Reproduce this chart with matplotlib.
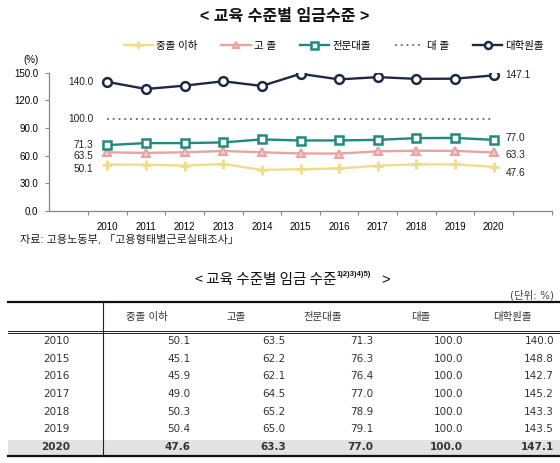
import numpy as np
import matplotlib
matplotlib.use("Agg")
import matplotlib.pyplot as plt
from matplotlib.patches import Rectangle

plt.rcParams['font.family'] = ['Liberation Sans', 'Noto Sans CJK KR']

# 차트 데이터 (교육 수준별 임금수준, 대졸=100)
years = [2010, 2011, 2012, 2013, 2014, 2015, 2016, 2017, 2018, 2019, 2020]
middle = [50.1, 50.1, 49.0, 50.8, 44.3, 45.1, 45.9, 49.0, 50.3, 50.4, 47.6]
high = [63.5, 62.8, 63.5, 64.9, 63.5, 62.2, 62.1, 64.5, 65.2, 65.0, 63.3]
college = [71.3, 73.5, 73.5, 74.2, 77.5, 76.3, 76.4, 77.0, 78.9, 79.1, 77.0]
univ = [100.0] * 11
grad = [140.0, 132.3, 135.9, 140.7, 135.6, 148.8, 142.7, 145.2, 143.3, 143.5, 147.1]
series_names = ['중졸 이하', '고 졸', '전문대졸', '대 졸', '대학원졸']

# 표 데이터
table_years = ['2010', '2015', '2016', '2017', '2018', '2019', '2020']
table_cols = ['중졸 이하', '고졸', '전문대졸', '대졸', '대학원졸']
table_vals = [
    [50.1, 63.5, 71.3, 100.0, 140.0],
    [45.1, 62.2, 76.3, 100.0, 148.8],
    [45.9, 62.1, 76.4, 100.0, 142.7],
    [49.0, 64.5, 77.0, 100.0, 145.2],
    [50.3, 65.2, 78.9, 100.0, 143.3],
    [50.4, 65.0, 79.1, 100.0, 143.5],
    [47.6, 63.3, 77.0, 100.0, 147.1],
]

W, H = 560, 463
fig = plt.figure(figsize=(W / 100, H / 100), dpi=100)

def fx(px):
    return px / W

def fy(py):
    return 1 - py / H

# ---- 선 그래프 ----
ax = fig.add_axes([fx(49.3), fy(210.7), fx(551.7 - 49.3), (210.7 - 72.7) / H])
x = np.arange(len(years))

c_mid, c_high, c_col, c_univ, c_grad = '#f2dc88', '#e8a3a3', '#1f8a7e', '#666666', '#1e2a44'
l1, = ax.plot(x, middle, color=c_mid, lw=1.7, marker='+', ms=7, mew=2)
l2, = ax.plot(x, high, color=c_high, lw=1.7, marker='^', ms=6, mfc='#f3c9c9', mec=c_high, mew=1.5)
l3, = ax.plot(x, college, color=c_col, lw=1.7, marker='s', ms=6.3, mfc='white', mec=c_col, mew=1.8)
l4, = ax.plot(x, univ, color=c_univ, lw=1.3, ls=(0, (1, 2.2)))
l5, = ax.plot(x, grad, color=c_grad, lw=1.7, marker='o', ms=6.3, mfc='white', mec=c_grad, mew=1.8)

ax.set_xlim(-1.5, 11.5)
ax.set_ylim(0, 150)
ax.set_yticks(np.arange(0, 151, 30))
ax.set_yticklabels([f'{v:.1f}' for v in np.arange(0, 151, 30)])
ax.set_xticks(x)
ax.set_xticklabels([str(y) for y in years])
ax.set_xticks(np.arange(-0.5, 11.6, 1), minor=True)
ax.tick_params(axis='x', which='major', length=0, pad=8, labelsize=7)
ax.tick_params(axis='x', which='minor', length=3, color='#868686', width=0.8)
ax.tick_params(axis='y', length=3, color='#868686', width=0.8, pad=5, labelsize=7)
for s in ['top', 'right']:
    ax.spines[s].set_visible(False)
for s in ['left', 'bottom']:
    ax.spines[s].set_color('#868686')
    ax.spines[s].set_linewidth(0.9)

# 데이터 레이블
lab_kw = dict(textcoords='offset pixels', fontsize=7.3, va='center', color='#222222')
for val, dy in [(grad[0], 0), (univ[0], 0), (college[0], 0), (high[0], -4), (middle[0], -4.5)]:
    ax.annotate(f'{val:.1f}', xy=(x[0], val), xytext=(-14, dy), ha='right', **lab_kw)
for val, dy in [(grad[-1], 0), (college[-1], 1.6), (high[-1], -3), (middle[-1], -6)]:
    ax.annotate(f'{val:.1f}', xy=(x[-1], val), xytext=(12, dy), ha='left', **lab_kw)

fig.text(fx(39), fy(60), '(%)', ha='right', va='center', fontsize=7)
fig.text(fx(285), fy(16), '< 교육 수준별 임금수준 >', ha='center', va='center',
         fontsize=11.5, fontweight='bold', color='#111111')
fig.legend([l1, l2, l3, l4, l5], series_names, loc='center', bbox_to_anchor=(0.596, fy(46)),
           ncol=5, frameon=False, fontsize=7.5, handlelength=2.8, handletextpad=0.3,
           columnspacing=2.3, markerscale=0.8)
fig.text(fx(20), fy(239), '자료: 고용노동부, 「고용형태별근로실태조사」', ha='left', va='center',
         fontsize=8, color='#222222')

# ---- 표 ----
tf = ['DejaVu Sans', 'Noto Sans CJK KR']
fig.text(fx(336), fy(280), '< 교육 수준별 임금 수준', ha='right', va='center', fontsize=10.5,
         family=['Noto Sans CJK KR'], color='#111111')
fig.text(fx(337), fy(275), '1)2)3)4)5)', ha='left', va='center', fontsize=5.5,
         fontweight='bold', color='#111111')
fig.text(fx(386), fy(280), '>', ha='center', va='center', fontsize=10.5, color='#111111')
fig.text(fx(554), fy(295), '(단위: %)', ha='right', va='center', fontsize=7.5, family=tf,
         color='#444444')

tab = fig.add_axes([0, 0, 1, 1])
tab.set_xlim(0, W)
tab.set_ylim(H, 0)
tab.axis('off')

row_y = [341.3, 359, 376.3, 393.7, 411.7, 429, 446.7]
col_right = [190.7, 285.7, 373, 463.3, 554]
col_head = [146.7, 235.7, 323, 421, 512.7]

tab.add_patch(Rectangle((8, 439.7), W - 8, 15, color='#e2e2e2', lw=0))
tab.plot([8, W], [302.3, 302.3], color='#111111', lw=1.6)
tab.plot([8, W], [330.6, 330.6], color='#222222', lw=0.7)
tab.plot([8, W], [332.8, 332.8], color='#222222', lw=0.7)
tab.plot([8, W], [455.8, 455.8], color='#111111', lw=1.6)
tab.plot([103.3, 103.3], [302.3, 455.8], color='#222222', lw=0.8)

for name, cx in zip(table_cols, col_head):
    tab.text(cx, 317, name, ha='center', va='center', fontsize=7.5, family=tf, color='#333333')
for i, (yr, vals) in enumerate(zip(table_years, table_vals)):
    bold = 'bold' if i == len(table_years) - 1 else 'normal'
    tab.text(56, row_y[i], yr, ha='center', va='center', fontsize=7.5, family=tf,
             fontweight=bold, color='#333333')
    for v, rx in zip(vals, col_right):
        tab.text(rx, row_y[i], f'{v:.1f}', ha='right', va='center', fontsize=7.5, family=tf,
                 fontweight=bold, color='#333333')

fig.savefig('out.png', dpi=100)
